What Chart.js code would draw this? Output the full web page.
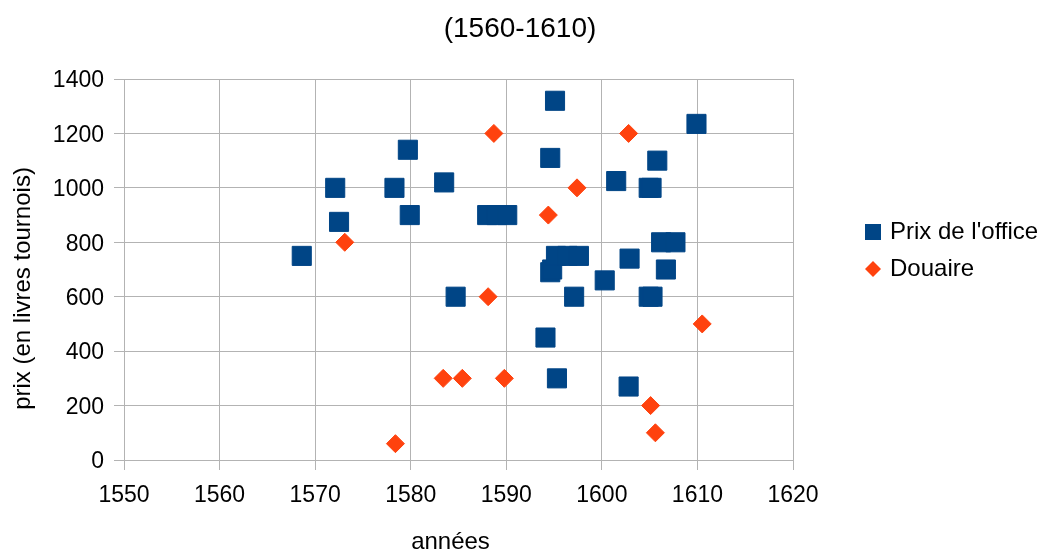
<!DOCTYPE html>
<html>
<head>
<meta charset="utf-8">
<script src="https://cdn.jsdelivr.net/npm/chart.js@4/dist/chart.umd.min.js"></script>
<style>
  html, body { margin: 0; padding: 0; background: #fff; }
  #wrap { width: 1056px; height: 554px; }
</style>
</head>
<body>
<div id="wrap"><canvas id="myChart" width="1056" height="554"></canvas></div>
<script>
// ===== data =====
const officeYears = [1568.6, 1572.1, 1572.5, 1578.3, 1579.7, 1579.9, 1583.5, 1584.7, 1588.0, 1589.0, 1590.1,
  1595.1, 1594.6, 1594.1, 1594.6, 1594.8, 1595.2, 1596.4, 1597.6, 1597.1, 1595.3, 1600.3, 1601.5,
  1602.9, 1602.8, 1604.9, 1605.2, 1604.9, 1605.3, 1605.8, 1606.2, 1607.7, 1606.7, 1609.9];
const officePrices = [750, 1000, 875, 1000, 1140, 900, 1020, 600, 900, 900, 900,
  1320, 1110, 450, 690, 700, 750, 750, 750, 600, 300, 660, 1025,
  740, 270, 1000, 1000, 600, 600, 1100, 800, 800, 700, 1235];

const douaireYears = [1573.1, 1578.4, 1583.4, 1585.4, 1588.1, 1588.7, 1589.8, 1594.4, 1597.4, 1602.8, 1605.1, 1605.6, 1610.5];
const douaireValues = [800, 60, 300, 300, 600, 1200, 300, 900, 1000, 1200, 200, 100, 500];

const xTicks = [1550, 1560, 1570, 1580, 1590, 1600, 1610, 1620];
const yTicks = [0, 200, 400, 600, 800, 1000, 1200, 1400];

const blue = "#004586";
const orange = "#ff420e";
const gridColor = "#b3b3b3";

function toPoints(xs, ys) {
  return xs.map((x, i) => ({ x: x, y: ys[i] }));
}

// legend markers as small canvases
function markerCanvas(kind, color) {
  const c = document.createElement("canvas");
  c.width = 16;
  c.height = 16;
  const g = c.getContext("2d");
  g.fillStyle = color;
  if (kind === "square") {
    g.fillRect(0, 0, 16, 16);
  } else {
    g.beginPath();
    g.moveTo(8, 0);
    g.lineTo(16, 8);
    g.lineTo(8, 16);
    g.lineTo(0, 8);
    g.closePath();
    g.fill();
  }
  return c;
}
const legendMarks = [markerCanvas("square", blue), markerCanvas("diamond", orange)];

Chart.defaults.font.family = "'Liberation Sans', Arial, sans-serif";
Chart.defaults.color = "#000";

// draw a scale's title shifted by dx/dy without moving the scale itself
function shiftTitle(scale, dx, dy) {
  const orig = scale.drawTitle;
  scale.drawTitle = function() {
    const l = this.left, r = this.right, t = this.top, b = this.bottom;
    this.left = l + dx; this.right = r + dx;
    this.top = t + dy; this.bottom = b + dy;
    orig.call(this);
    this.left = l; this.right = r; this.top = t; this.bottom = b;
  };
}

// fixed layout of axes, title & legend
const layoutFix = {
  id: "layoutFix",
  afterInit(chart) {
    const legend = chart.legend;
    const origFit = legend.fit;
    legend.fit = function() {
      origFit.call(this);
      this.width = 263;
    };
  },
  afterLayout(chart) {
    const legend = chart.legend;
    legend.left = 855;
    legend.right = 855 + 263;
    legend.top = 0;
    legend.bottom = 501;
    legend.height = 501;

    const title = chart.titleBlock;
    if (title) {
      title.left = -16;
      title.right = 1056;
    }
    if (!chart.scales.x._shifted) {
      shiftTitle(chart.scales.x, -8, 0);
      shiftTitle(chart.scales.y, 0, 19);
      chart.scales.x._shifted = true;
    }
  }
};

var ctx = document.getElementById("myChart").getContext("2d");

var chart = new Chart(ctx, {
  type: "scatter",
  data: {
    datasets: [
      {
        label: "Prix de l'office",
        data: toPoints(officeYears, officePrices),
        pointStyle: "rect",
        pointRadius: 13.5,
        pointHoverRadius: 13.5,
        backgroundColor: blue,
        borderColor: blue,
        borderWidth: 1
      },
      {
        label: "Douaire",
        data: toPoints(douaireYears, douaireValues),
        pointStyle: "rectRot",
        pointRadius: 9,
        pointHoverRadius: 9,
        backgroundColor: orange,
        borderColor: orange,
        borderWidth: 1
      }
    ]
  },
  options: {
    responsive: false,
    animation: false,
    layout: { padding: 0 },
    plugins: {
      title: {
        display: true,
        text: "(1560-1610)",
        font: { size: 28, weight: "normal" },
        color: "#000",
        padding: { top: 12, bottom: 33.4 }
      },
      legend: {
        position: "right",
        labels: {
          usePointStyle: true,
          boxWidth: 10,
          boxHeight: 16,
          padding: 13,
          font: { size: 24 },
          color: "#000",
          generateLabels(chart) {
            const items = Chart.defaults.plugins.legend.labels.generateLabels(chart);
            items.forEach((item, i) => { item.pointStyle = legendMarks[i]; });
            return items;
          }
        }
      },
      tooltip: { enabled: false }
    },
    scales: {
      x: {
        type: "linear",
        min: 1550,
        max: 1620,
        afterBuildTicks(scale) { scale.ticks = xTicks.map(v => ({ value: v })); },
        afterFit(scale) { scale.height = 94; },
        ticks: {
          font: { size: 23 },
          padding: 12,
          callback: v => String(v)
        },
        grid: { color: gridColor, tickColor: gridColor, tickLength: 10 },
        border: { color: gridColor },
        title: {
          display: true,
          text: "années",
          font: { size: 24, lineHeight: 1 },
          padding: { top: 0, bottom: 0 }
        }
      },
      y: {
        type: "linear",
        min: 0,
        max: 1400,
        afterBuildTicks(scale) { scale.ticks = yTicks.map(v => ({ value: v })); },
        afterFit(scale) { scale.width = 124; },
        ticks: {
          font: { size: 23 },
          padding: 10,
          labelOffset: 2,
          callback: v => String(v)
        },
        grid: { color: gridColor, tickColor: gridColor, tickLength: 10 },
        border: { color: gridColor },
        title: {
          display: true,
          text: "prix (en livres tournois)",
          font: { size: 24, lineHeight: 1 },
          padding: { top: 11.5, bottom: 0 }
        }
      }
    }
  },
  plugins: [layoutFix]
});
</script>
</body>
</html>
